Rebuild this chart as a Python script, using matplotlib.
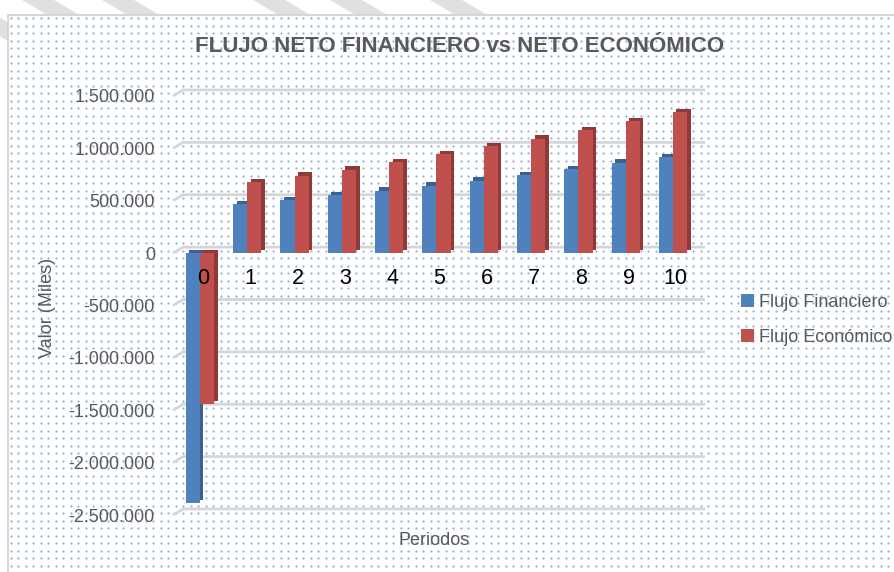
import matplotlib
matplotlib.use("Agg")
import matplotlib.pyplot as plt
import numpy as np
from matplotlib import font_manager as fm
from matplotlib.transforms import ScaledTranslation
from matplotlib.patches import Rectangle, Polygon

# ---------------- data ----------------
periods = ["0", "1", "2", "3", "4", "5", "6", "7", "8", "9", "10"]
flujo_financiero = [-2390000, 470000, 505000, 555000, 597000, 645000, 693000, 747000, 802000, 865000, 920000]
flujo_economico = [-1445000, 676000, 740000, 798000, 868000, 942000, 1019000, 1093000, 1177000, 1260000, 1346000]
yticks = [-2500000, -2000000, -1500000, -1000000, -500000, 0, 500000, 1000000, 1500000]
title = "FLUJO NETO FINANCIERO vs NETO ECONÓMICO"
series_names = ["Flujo Financiero", "Flujo Económico"]

# ---------------- fonts ----------------
names = {f.name for f in fm.fontManager.ttflist}
narrow = "Liberation Sans Narrow" if "Liberation Sans Narrow" in names else "Liberation Sans"
plt.rcParams["font.family"] = [narrow, "DejaVu Sans"]

W, H, DPI = 895, 572, 100
fig = plt.figure(figsize=(W / DPI, H / DPI), dpi=DPI)
fig.patch.set_facecolor("white")

TXT = "#595959"
BLUE, BLUE_D = "#4F81BD", "#3A6190"
RED, RED_D = "#C0504D", "#8E3A38"

# ---------------- background (page stripes, frame, dot pattern) ----------------
bg = fig.add_axes([0, 0, 1, 1], zorder=-5)
bg.set_xlim(0, W)
bg.set_ylim(H, 0)
bg.axis("off")
slope = 1.7
for x0 in [-62, 22, 102, 253, 330, 430]:
    w = 32
    bg.add_patch(Polygon([(x0, 0), (x0 + w, 0), (x0 + w + slope * 80, 80), (x0 + slope * 80, 80)],
                         closed=True, color="#e0e0e0", lw=0))
bg.add_patch(Rectangle((8, 15), W, H, facecolor="white", edgecolor="#d0d0d0", lw=1.2, zorder=2))
xs = np.arange(11, W, 7.5)
ys = np.arange(18, H, 7.5)
XX, YY = np.meshgrid(xs, ys)
bg.scatter(XX.ravel(), YY.ravel(), s=2.6, c="#6a98d8", alpha=0.75, lw=0, zorder=3)

# ---------------- main axes ----------------
ax_l, ax_r, ax_t, ax_b = 173, 705, 96, 515
ax = fig.add_axes([ax_l / W, (H - ax_b) / H, (ax_r - ax_l) / W, (ax_b - ax_t) / H])
ax.set_facecolor("none")
px_per_unit = 47.3
xmin = (ax_l - 200) / px_per_unit
xmax = (ax_r - 200) / px_per_unit
ax.set_xlim(xmin, xmax)
ax.set_ylim(-2500000, 1500000)
data_per_px_y = 4000000 / (ax_b - ax_t)

# back-wall gridlines with 3D corner
dxg = 10 / px_per_unit
dyg = 6 * data_per_px_y
for v in yticks:
    ax.plot([xmin, xmin + dxg, xmax], [v, v + dyg, v + dyg], color="#d6d6d6", lw=2.0,
            zorder=0, solid_capstyle="butt", clip_on=False)

x = np.arange(len(periods))
bw = 0.30
shift = ScaledTranslation(3.5 / DPI, 3.2 / DPI, fig.dpi_scale_trans)
ax.bar(x - bw / 2, flujo_financiero, bw, color=BLUE_D, transform=ax.transData + shift, zorder=2, lw=0)
ax.bar(x + bw / 2, flujo_economico, bw, color=RED_D, transform=ax.transData + shift, zorder=2, lw=0)
ax.bar(x - bw / 2, flujo_financiero, bw, color=BLUE, zorder=3, lw=0, label=series_names[0])
ax.bar(x + bw / 2, flujo_economico, bw, color=RED, zorder=4, lw=0, label=series_names[1])

# axes styling
for s in ["top", "right", "left"]:
    ax.spines[s].set_visible(False)
ax.spines["bottom"].set_position(("data", 0))
ax.spines["bottom"].set_visible(False)
ax.set_xticks(x + 0.06)
ax.set_xticklabels(periods, fontsize=15.5, color="black")
ax.tick_params(axis="x", length=0, pad=11)
ax.xaxis.set_zorder(10)
ax.set_yticks(yticks)
ax.set_yticklabels([f"{v:,}".replace(",", ".") for v in yticks], fontsize=13, color=TXT)
ax.tick_params(axis="y", length=0, pad=13)

ax.text(0.49, -0.06, "Periodos", transform=ax.transAxes, ha="center", va="center",
        fontsize=13, color=TXT)
fig.text(48 / W, 1 - 308 / H, "Valor (Miles)", rotation=90, ha="center", va="center",
         fontsize=13, color=TXT)
fig.text(460 / W, 1 - 46 / H, title, ha="center", va="center", fontsize=16,
         fontweight="bold", color=TXT)

leg = fig.legend(loc="center left", bbox_to_anchor=(732 / W, 1 - 320 / H), frameon=False,
                 fontsize=13, labelcolor=TXT, handlelength=0.7, handleheight=0.7,
                 handletextpad=0.3, labelspacing=1.0, borderpad=0)

fig.savefig("out.png", dpi=DPI)
